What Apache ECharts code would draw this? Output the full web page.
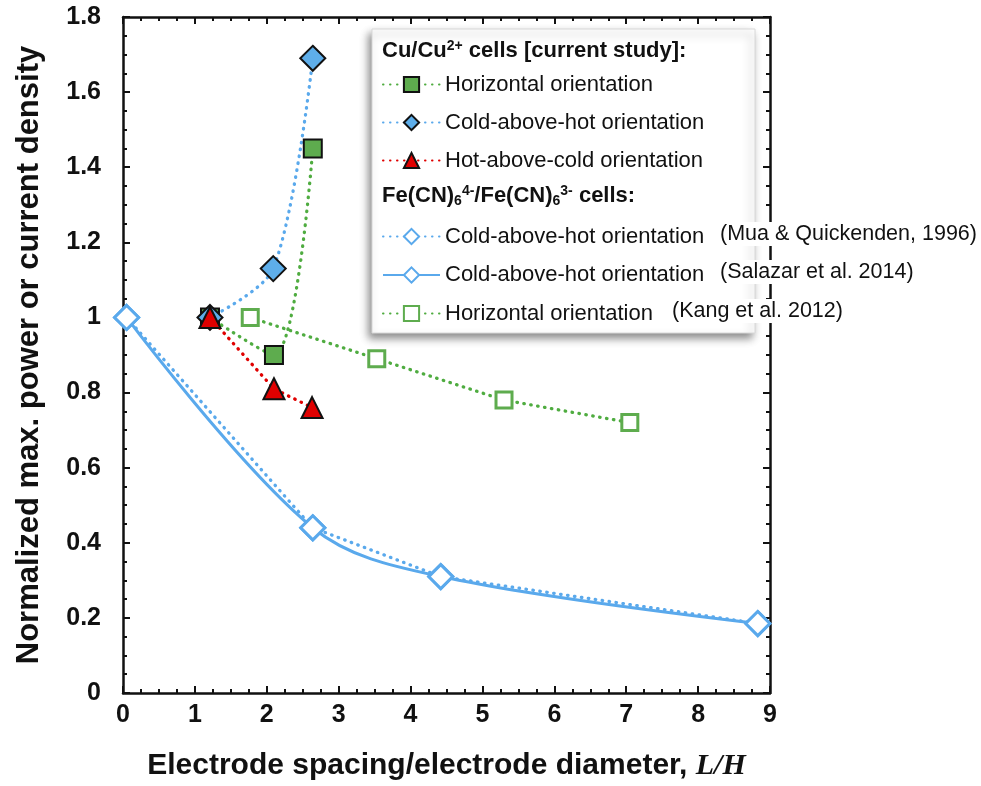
<!DOCTYPE html>
<html>
<head>
<meta charset="utf-8">
<script src="https://cdn.jsdelivr.net/npm/echarts@6/dist/echarts.min.js"></script>
<style>
  html, body { margin: 0; padding: 0; background: #fff; }
  #chart { width: 981px; height: 786px; }
</style>
</head>
<body>
<div id="chart"></div>
<script>
// Electrode spacing/diameter ratio (L/H) vs. normalized max. power or current density

// Cu/Cu2+ cells (current study)
const cuHorizontalX = [1.21, 2.10, 2.64];
const cuHorizontalY = [1.00, 0.90, 1.45];
const cuColdAboveHotX = [1.21, 2.09, 2.64];
const cuColdAboveHotY = [1.00, 1.13, 1.69];
const cuHotAboveColdX = [1.21, 2.10, 2.63];
const cuHotAboveColdY = [1.00, 0.81, 0.76];

// Fe(CN)6 4-/3- cells from literature
const muaX = [0.05, 2.64, 4.42, 8.83];
const muaY = [1.00, 0.44, 0.31, 0.185];
const salazarX = [0.05, 2.64, 4.42, 8.83];
const salazarY = [1.00, 0.44, 0.31, 0.185];
const kangX = [1.77, 3.53, 5.30, 7.05];
const kangY = [1.00, 0.89, 0.78, 0.72];

// Axis ranges and tick spacing
const xRange = [0, 9];
const xStep = 1;
const yRange = [0, 1.8];
const yStep = 0.2;

// Legend labels (trailing spaces keep the three Fe(CN)6 entries distinct)
const nameCuHoriz = 'Horizontal orientation';
const nameCuCold = 'Cold-above-hot orientation';
const nameCuHot = 'Hot-above-cold orientation';
const nameMua = 'Cold-above-hot orientation ';
const nameSalazar = 'Cold-above-hot orientation  ';
const nameKang = 'Horizontal orientation ';
const citations = ['(Mua & Quickenden, 1996)', '(Salazar et al. 2014)', '(Kang et al. 2012)'];

const pairs = (xs, ys) => xs.map((x, i) => [x, ys[i]]);

const FONT = '"Liberation Sans", Arial, sans-serif';
const BLUE_LINE = '#5aa9ec';
const BLUE_FILL = '#5eaeea';
const GREEN_LINE = '#4fac40';
const GREEN_FILL = '#5eac4e';
const RED = '#e00000';
const DOT = [0.5, 6.5];

const chart = echarts.init(document.getElementById('chart'), null, { renderer: 'canvas' });

const axisCommon = {
  axisLine: { show: true, onZero: false, lineStyle: { color: '#111', width: 2.5 } },
  axisTick: { show: true, inside: true, length: 7, lineStyle: { color: '#111', width: 2 } },
  minorTick: { show: true, splitNumber: 4, length: 4, lineStyle: { color: '#111', width: 2 } },
  splitLine: { show: false }
};

const legendText = { fontFamily: FONT, fontSize: 22, color: '#111', lineHeight: 22 };
const citationStyle = (text) => ({
  text, fontFamily: FONT, fontSize: 21.5, fill: '#111', backgroundColor: '#fff', padding: [1, 2]
});

const option = {
  backgroundColor: '#fff',
  animation: false,
  grid: { left: 123, right: 211, top: 17, bottom: 89, containLabel: false },
  xAxis: [
    Object.assign({}, axisCommon, {
      type: 'value', min: xRange[0], max: xRange[1], interval: xStep, position: 'bottom',
      axisLabel: { margin: 10, color: '#111', fontFamily: FONT, fontWeight: 'bold', fontSize: 25 },
      name: '{a|Electrode spacing/electrode diameter, }{b|L/H}',
      nameLocation: 'middle', nameGap: 58,
      nameTextStyle: {
        rich: {
          a: { fontFamily: FONT, fontWeight: 'bold', fontSize: 30, color: '#111' },
          b: { fontFamily: '"Liberation Serif", "Times New Roman", serif', fontWeight: 'bold', fontStyle: 'italic', fontSize: 30, color: '#111' }
        }
      }
    }),
    Object.assign({}, axisCommon, {
      type: 'value', min: xRange[0], max: xRange[1], interval: xStep, position: 'top',
      axisLabel: { show: false }
    })
  ],
  yAxis: [
    Object.assign({}, axisCommon, {
      type: 'value', min: yRange[0], max: yRange[1], interval: yStep, position: 'left',
      axisLabel: { margin: 22, color: '#111', fontFamily: FONT, fontWeight: 'bold', fontSize: 25 },
      name: 'Normalized max. power or current density',
      nameLocation: 'middle', nameGap: 78, nameRotate: 90,
      nameTextStyle: { fontFamily: FONT, fontWeight: 'bold', fontSize: 31, color: '#111' }
    }),
    Object.assign({}, axisCommon, {
      type: 'value', min: yRange[0], max: yRange[1], interval: yStep, position: 'right',
      axisLabel: { show: false }
    })
  ],
  legend: [
    {
      orient: 'vertical', left: 377, top: 68.5, z: 20,
      itemWidth: 57, itemHeight: 19, itemGap: 16,
      textStyle: legendText,
      data: [nameCuHoriz, nameCuCold, nameCuHot]
    },
    {
      orient: 'vertical', left: 377, top: 220.5, z: 20,
      itemWidth: 57, itemHeight: 19, itemGap: 16.5,
      textStyle: legendText,
      data: [nameMua, nameSalazar, nameKang]
    }
  ],
  graphic: {
    elements: [
      {
        type: 'rect', z: 10, silent: true,
        shape: { x: 372, y: 29, width: 383, height: 304 },
        style: {
          fill: '#fff', stroke: '#d8d8d8', lineWidth: 1,
          shadowBlur: 8, shadowColor: 'rgba(0,0,0,0.45)', shadowOffsetX: -3, shadowOffsetY: 5
        }
      },
      {
        type: 'text', z: 30, left: 382, top: 39,
        style: {
          text: '{b|Cu/Cu}{sup|2+}{b| cells [current study]:}',
          rich: {
            b: { fontFamily: FONT, fontWeight: 'bold', fontSize: 22, fill: '#111', lineHeight: 26 },
            sup: { fontFamily: FONT, fontWeight: 'bold', fontSize: 14, fill: '#111', lineHeight: 26, padding: [0, 0, 10, 0] }
          }
        }
      },
      {
        type: 'text', z: 30, left: 382, top: 184,
        style: {
          text: '{b|Fe(CN)}{sub|6}{sup|4-}{b|/Fe(CN)}{sub|6}{sup|3-}{b| cells:}',
          rich: {
            b: { fontFamily: FONT, fontWeight: 'bold', fontSize: 22, fill: '#111', lineHeight: 26 },
            sup: { fontFamily: FONT, fontWeight: 'bold', fontSize: 14, fill: '#111', lineHeight: 26, padding: [0, 0, 10, 0] },
            sub: { fontFamily: FONT, fontWeight: 'bold', fontSize: 14, fill: '#111', lineHeight: 26, padding: [10, 0, 0, 0] }
          }
        }
      },
      { type: 'text', z: 30, left: 718, top: 222, style: citationStyle(citations[0]) },
      { type: 'text', z: 30, left: 718, top: 260, style: citationStyle(citations[1]) },
      { type: 'text', z: 30, left: 670, top: 299, style: citationStyle(citations[2]) }
    ]
  },
  series: [
    {
      name: nameKang, type: 'line', data: pairs(kangX, kangY),
      symbol: 'rect', symbolSize: 16,
      itemStyle: { color: '#fff', borderColor: GREEN_FILL, borderWidth: 3 },
      lineStyle: { color: GREEN_LINE, width: 3.3, type: DOT, cap: 'round' }
    },
    {
      name: nameMua, type: 'line', data: pairs(muaX, muaY),
      symbol: 'diamond', symbolSize: 24,
      itemStyle: { color: '#fff', borderColor: BLUE_LINE, borderWidth: 3 },
      lineStyle: { color: BLUE_LINE, width: 3.3, type: DOT, cap: 'round' }
    },
    {
      name: nameSalazar, type: 'line', data: pairs(salazarX, salazarY),
      smooth: 0.35,
      symbol: 'diamond', symbolSize: 24,
      itemStyle: { color: '#fff', borderColor: BLUE_LINE, borderWidth: 3 },
      lineStyle: { color: BLUE_LINE, width: 3, type: 'solid' }
    },
    {
      name: nameCuHoriz, type: 'line', data: pairs(cuHorizontalX, cuHorizontalY),
      smooth: 0.3,
      symbol: 'rect', symbolSize: 18,
      itemStyle: { color: GREEN_FILL, borderColor: '#111', borderWidth: 2 },
      lineStyle: { color: GREEN_LINE, width: 3.3, type: DOT, cap: 'round' }
    },
    {
      name: nameCuCold, type: 'line', data: pairs(cuColdAboveHotX, cuColdAboveHotY),
      smooth: 0.3,
      symbol: 'diamond', symbolSize: 25,
      itemStyle: { color: BLUE_FILL, borderColor: '#111', borderWidth: 2 },
      lineStyle: { color: BLUE_LINE, width: 3.3, type: DOT, cap: 'round' }
    },
    {
      name: nameCuHot, type: 'line', data: pairs(cuHotAboveColdX, cuHotAboveColdY),
      symbol: 'triangle', symbolSize: 21,
      itemStyle: { color: RED, borderColor: '#111', borderWidth: 2 },
      lineStyle: { color: RED, width: 3.3, type: DOT, cap: 'round' }
    }
  ]
};

chart.setOption(option);
</script>
</body>
</html>
